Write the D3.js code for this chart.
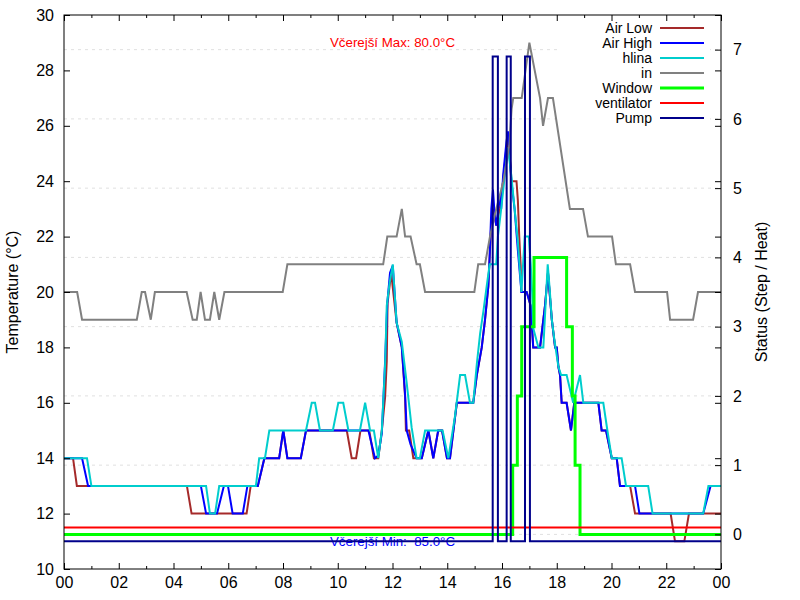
<!DOCTYPE html>
<html><head><meta charset="utf-8">
<script src="https://cdn.jsdelivr.net/npm/d3@7"></script>
<style>
body{margin:0;background:#fff;}
svg{font-family:"Liberation Sans",Arial,sans-serif;}
</style></head>
<body><svg id="c" width="800" height="600"></svg>
<script>
// ---- data (hour of day, value) ----
const airLow = [[0,14],[0.33,14],[0.47,13],[4.49,13],[4.66,12],[6.67,12],[6.82,13],[7.08,13],[7.32,14],[7.86,14],[8.01,15],[8.16,14],[8.65,14],[8.84,15],[10.33,15],[10.51,14],[10.67,14],[10.83,15],[11.15,15],[11.32,14],[11.48,14],[11.61,15],[11.73,16.2],[11.79,17.5],[11.82,19.6],[11.95,20.7],[12.15,18.9],[12.34,18],[12.46,16.2],[12.49,15],[12.61,15],[12.76,14],[13.07,14],[13.31,15],[13.49,14],[13.67,15],[13.81,15],[13.99,14],[14.10,14],[14.35,16],[14.95,16],[15.08,17],[15.26,18],[15.38,19],[15.50,20.2],[15.55,21.3],[15.61,22.5],[15.67,23],[15.73,22.8],[15.79,22.4],[15.92,23],[16.04,24],[16.16,25.2],[16.22,25.5],[16.32,24.5],[16.34,24],[16.53,24],[16.58,23.3],[16.63,22],[16.68,21],[16.71,20],[16.90,20],[17.05,19.5],[17.14,18],[17.39,18],[17.57,19.5],[17.68,20.7],[17.82,19],[17.94,18],[18.0,18],[18.06,17.3],[18.12,17],[18.18,16],[18.36,16],[18.52,15],[18.64,16],[19.52,16],[19.64,15],[19.80,15],[20.01,14],[20.19,14],[20.31,13],[20.68,13],[20.86,12],[22.16,12],[22.32,11],[22.66,11],[22.83,12],[24,12]];
const airHigh = [[0,14],[0.66,14],[0.88,13],[5.0,13],[5.19,12],[5.59,12],[5.84,13],[5.99,13],[6.16,12],[6.53,12],[6.70,13],[7.08,13],[7.32,14],[7.86,14],[8.01,15],[8.16,14],[8.65,14],[8.84,15],[11.12,15],[11.36,14],[11.48,14.1],[11.61,14.9],[11.67,16.2],[11.73,17.5],[11.81,19.6],[11.91,20.7],[12.01,20.95],[12.15,18.9],[12.34,18],[12.46,16.3],[12.52,15],[12.66,14.5],[12.88,14],[13.07,14],[13.31,15],[13.49,14],[13.67,15],[13.81,15],[13.99,14],[14.10,14],[14.35,16],[14.95,16],[15.08,17],[15.26,18],[15.38,19],[15.50,20.2],[15.55,21.3],[15.61,23],[15.67,23.7],[15.73,22.8],[15.79,22.4],[15.92,23.5],[15.97,23],[16.04,24.2],[16.16,25.4],[16.22,25.8],[16.34,24],[16.46,23],[16.58,21.5],[16.71,20],[16.90,20],[17.05,19.5],[17.14,18],[17.39,18],[17.57,19.5],[17.68,20.7],[17.82,19],[17.94,18],[18.0,18],[18.06,17.3],[18.12,17],[18.18,16],[18.36,16],[18.52,15],[18.64,16],[19.52,16],[19.64,15],[19.80,15],[20.01,14],[20.19,14],[20.31,13],[20.86,13],[21.02,12],[23.35,12],[23.62,13],[24,13]];
const hlina = [[0,14],[0.84,14],[1.0,13],[5.19,13],[5.33,12],[5.52,12],[5.67,13],[7.01,13],[7.13,14],[7.34,14],[7.50,15],[8.84,15],[9.05,16],[9.17,16],[9.35,15],[9.82,15],[10.02,16],[10.20,16],[10.39,15],[10.81,15],[11.0,16],[11.18,15],[11.32,15],[11.48,14],[11.61,15],[11.73,17.4],[11.79,19.5],[11.89,20.3],[12.01,21],[12.15,18.9],[12.34,18.2],[12.52,16.7],[12.70,15.1],[12.88,14],[13.0,14],[13.19,15],[13.83,15],[14.04,14],[14.28,15.5],[14.47,17],[14.65,17],[14.83,16],[14.95,16],[15.08,17.4],[15.20,18.5],[15.32,19.3],[15.44,20.2],[15.55,21],[15.79,21],[15.85,22],[15.97,23],[16.10,24.2],[16.22,25.2],[16.34,24.2],[16.46,23],[16.58,21.8],[16.71,20],[16.83,22],[16.98,22],[17.05,21],[17.10,20],[17.14,18.7],[17.33,18],[17.51,18],[17.67,21],[17.75,20],[17.82,19],[17.91,18.3],[18.06,17.3],[18.16,17],[18.36,17],[18.60,16],[18.85,17],[18.97,16],[19.70,16],[19.85,15],[20.01,14],[20.37,14],[20.53,13],[21.34,13],[21.50,12],[23.35,12],[23.54,13],[24,13]];
const inside = [[0,20],[0.48,20],[0.66,19],[2.66,19],[2.84,20],[2.96,20],[3.17,19],[3.32,20],[4.48,20],[4.70,19],[4.85,19],[4.99,20],[5.15,19],[5.33,19],[5.49,20],[5.67,19],[5.86,20],[7.99,20],[8.16,21],[11.66,21],[11.81,22],[12.15,22],[12.34,23],[12.46,22],[12.66,22],[12.88,21],[13.0,21],[13.19,20],[14.99,20],[15.13,21],[15.38,21],[15.56,22],[15.74,22.8],[16.05,24],[16.15,24.6],[16.27,25.3],[16.35,26.6],[16.41,27],[16.72,27],[17.0,29],[17.39,27],[17.50,26],[17.68,27],[17.86,27],[18.48,23],[18.96,23],[19.14,22],[20.02,22],[20.16,21],[20.68,21],[20.86,20],[22.03,20],[22.14,19],[22.98,19],[23.16,20],[24,20]];
const windowState = [[0,0],[16.39,1],[16.56,2],[16.72,3],[17.17,4],[18.36,3],[18.57,2],[18.67,1],[18.85,0],[24,0]];
const ventilator = [[0,0.1],[24,0.1]];
const pump = [[0,-0.1],[15.66,6.9],[15.85,-0.1],[16.17,6.9],[16.32,-0.1],[16.84,6.9],[17.02,-0.1],[24,-0.1]];
const hourTicks = [0,2,4,6,8,10,12,14,16,18,20,22,24];
const hourLabels = ["00","02","04","06","08","10","12","14","16","18","20","22","00"];
const tempTicks = [10,12,14,16,18,20,22,24,26,28,30];
const statusTicks = [0,1,2,3,4,5,6,7];
const legendNames = ["Air Low","Air High","hlina","in","Window","ventilator","Pump"];
const colors = ["#a52a2a","#0000ff","#00cdcd","#808080","#00ff00","#ff0000","#00008b"];
const maxLabel = "Včerejší Max: 80.0°C";
const minLabel = "Včerejší Min:  85.0°C";

// ---- layout ----
const L=64,R=721,T=15,B=569;
const svg=d3.select("#c");
const x=d3.scaleLinear([0,24],[L,R]);
const y=d3.scaleLinear([10,30],[B,T]);
const y2=d3.scaleLinear([-0.5,7.5],[B,T]);

// grid
svg.append("g").selectAll("line").data(statusTicks).join("line")
 .attr("x1",L).attr("x2",R).attr("y1",d=>y2(d)).attr("y2",d=>y2(d))
 .attr("stroke","#e0e0e0").attr("stroke-width",1).attr("stroke-dasharray","3,4");

// annotations
svg.append("text").attr("x",x(12)).attr("y",y(29)).attr("dy","0.35em").attr("text-anchor","middle")
 .attr("font-size","13.3px").attr("fill","#ff0000").text(maxLabel);
svg.append("text").attr("x",x(12)).attr("y",y(11)).attr("dy","0.35em").attr("text-anchor","middle")
 .attr("font-size","13.3px").attr("fill","#0000ff").style("white-space","pre").text(minLabel);

// legend background
svg.append("rect").attr("x",560).attr("y",19).attr("width",150).attr("height",108).attr("fill","#fff");

// series
const lineT=d3.line().x(d=>x(d[0])).y(d=>y(d[1]));
const lineS=d3.line().x(d=>x(d[0])).y(d=>y2(d[1])).curve(d3.curveStepAfter);
const series=[
 {d:airLow,gen:lineT,w:2},{d:airHigh,gen:lineT,w:2},{d:hlina,gen:lineT,w:2},{d:inside,gen:lineT,w:2},
 {d:windowState,gen:lineS,w:3},{d:ventilator,gen:lineS,w:2},{d:pump,gen:lineS,w:2}];
series.forEach((s,i)=>{
 svg.append("path").attr("d",s.gen(s.d)).attr("fill","none").attr("stroke",colors[i]).attr("stroke-width",s.w);
});

// axes
const fs="16px";
const style=g=>{g.select(".domain").remove();g.selectAll("text").attr("font-size",fs).attr("fill","#000").attr("font-family","Liberation Sans, Arial, sans-serif");g.selectAll("line").attr("stroke","#000");};
svg.append("g").attr("transform",`translate(0,${B})`).call(d3.axisBottom(x).tickValues(hourTicks).tickFormat((d,i)=>hourLabels[i]).tickSize(-6).tickPadding(8)).call(style);
svg.append("g").attr("transform",`translate(0,${B})`).call(d3.axisBottom(x).tickValues(d3.range(1,24,2)).tickFormat("").tickSize(-3)).call(style);
svg.append("g").attr("transform",`translate(0,${T})`).call(d3.axisTop(x).tickValues(hourTicks).tickFormat("").tickSize(-6)).call(style);
svg.append("g").attr("transform",`translate(0,${T})`).call(d3.axisTop(x).tickValues(d3.range(1,24,2)).tickFormat("").tickSize(-3)).call(style);
svg.append("g").attr("transform",`translate(${L},0)`).call(d3.axisLeft(y).tickValues(tempTicks).tickFormat(d3.format("d")).tickSize(-6).tickPadding(10)).call(style);
svg.append("g").attr("transform",`translate(${R},0)`).call(d3.axisRight(y).tickValues(tempTicks).tickFormat("").tickSize(-6)).call(style);
svg.append("g").attr("transform",`translate(${R},0)`).call(d3.axisRight(y2).tickValues(statusTicks).tickFormat(d3.format("d")).tickSize(-6).tickPadding(12)).call(style);
svg.append("rect").attr("x",L).attr("y",T).attr("width",R-L).attr("height",B-T).attr("fill","none").attr("stroke","#000").attr("stroke-width",1);

// axis titles
svg.append("text").attr("transform",`translate(18,${(T+B)/2}) rotate(-90)`).attr("text-anchor","middle").attr("font-size",fs).text("Temperature (°C)");
svg.append("text").attr("transform",`translate(767,${(T+B)/2}) rotate(-90)`).attr("text-anchor","middle").attr("font-size",fs).text("Status (Step / Heat)");

// legend
const lg=svg.append("g");
legendNames.forEach((n,i)=>{
 const yy=28+i*15;
 lg.append("text").attr("x",652).attr("y",yy).attr("dy","0.36em").attr("text-anchor","end").attr("font-size","14px").text(n);
 lg.append("line").attr("x1",660).attr("x2",704).attr("y1",yy).attr("y2",yy).attr("stroke",colors[i]).attr("stroke-width",series[i].w);
});
</script></body></html>
